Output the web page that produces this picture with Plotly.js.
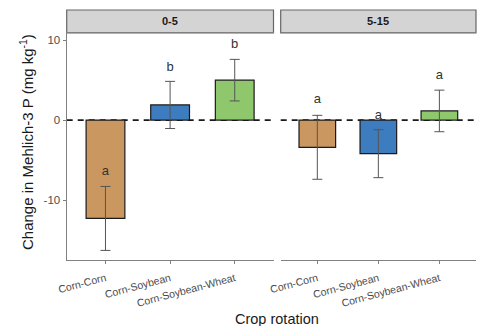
<!DOCTYPE html>
<html><head><meta charset="utf-8">
<script src="https://cdn.plot.ly/plotly-3.0.1.min.js"></script>
<style>html,body{margin:0;padding:0;background:#fff}#chart{width:482px;height:326px}</style>
</head><body><div id="chart"></div>
<script>
const categories = ["Corn-Corn", "Corn-Soybean", "Corn-Soybean-Wheat"];
const depths = ["0-5", "5-15"];
const values0to5 = [-12.3, 1.9, 5.0];
const errors0to5 = [4.0, 2.95, 2.6];
const letters0to5 = ["a", "b", "b"];
const letterY0to5 = [-6.5, 6.6, 9.4];
const values5to15 = [-3.4, -4.2, 1.15];
const errors5to15 = [4.0, 3.0, 2.6];
const letters5to15 = ["a", "a", "a"];
const letterY5to15 = [2.5, 0.6, 5.6];
const barColors = ["#c9975f", "#3d7dbf", "#8fc76c"];

const font = "Liberation Sans, Arial, sans-serif";
function barTrace(vals, errs, xa) {
  return {type: "bar", x: categories, y: vals, xaxis: xa, yaxis: "y",
    marker: {color: barColors, line: {color: "#1a1a1a", width: 1.2}},
    width: 0.6,
    error_y: {type: "data", array: errs, visible: true, color: "#555", thickness: 1, width: 5},
    showlegend: false, hoverinfo: "skip"};
}
function letterTrace(labels, ys, xa) {
  return {type: "scatter", mode: "text", x: categories, y: ys, text: labels, xaxis: xa, yaxis: "y",
    textfont: {family: font, size: 13, color: "#333"}, textposition: "middle center",
    showlegend: false, hoverinfo: "skip"};
}
const data = [
  barTrace(values0to5, errors0to5, "x"),
  barTrace(values5to15, errors5to15, "x2"),
  letterTrace(letters0to5, letterY0to5, "x"),
  letterTrace(letters5to15, letterY5to15, "x2")
];
const W = 482, H = 326;
const xd1 = [66.7 / W, 273.5 / W], xd2 = [280.7 / W, 476 / W];
const yBot = 1 - 260 / H, yTop = 1 - 33 / H, stripTop = 1 - 10 / H;
const xaxisBase = {
  type: "category", categoryarray: categories, range: [-0.6, 2.6],
  showline: true, mirror: true, linecolor: "#808080", linewidth: 1.2,
  ticks: "outside", ticklen: 3, tickcolor: "#808080", tickwidth: 1,
  tickangle: -15, ticklabelstandoff: 4, tickfont: {family: font, size: 10.5, color: "#4d4d4d"},
  showgrid: false, zeroline: false, anchor: "y"
};
const layout = {
  width: W, height: H, margin: {l: 0, r: 0, t: 0, b: 0},
  paper_bgcolor: "#fff", plot_bgcolor: "#fff", bargap: 0.4,
  xaxis: Object.assign({}, xaxisBase, {domain: xd1}),
  xaxis2: Object.assign({}, xaxisBase, {domain: xd2}),
  yaxis: {domain: [yBot, yTop], range: [-17.5, 10.9], tickvals: [-10, 0, 10], ticktext: ["-10", "0", "10"],
    showline: true, linecolor: "#808080", linewidth: 1.2, ticks: "outside", ticklen: 3, tickcolor: "#808080",
    tickfont: {family: font, size: 11.5, color: "#4d4d4d"}, showgrid: false, zeroline: false, anchor: "x"},
  shapes: [
    {type: "rect", xref: "paper", yref: "paper", x0: xd1[0], x1: xd1[1], y0: yTop, y1: stripTop,
      fillcolor: "#d4d4d4", line: {color: "#666", width: 1.2}, layer: "below"},
    {type: "rect", xref: "paper", yref: "paper", x0: xd2[0], x1: xd2[1], y0: yTop, y1: stripTop,
      fillcolor: "#d4d4d4", line: {color: "#666", width: 1.2}, layer: "below"},
    {type: "line", xref: "x domain", yref: "y", x0: 0, x1: 1, y0: 0, y1: 0,
      line: {color: "#1a1a1a", width: 1.8, dash: "6px,5px"}, layer: "below"},
    {type: "line", xref: "x2 domain", yref: "y", x0: 0, x1: 1, y0: 0, y1: 0,
      line: {color: "#1a1a1a", width: 1.8, dash: "6px,5px"}, layer: "below"}
  ],
  annotations: [
    {xref: "paper", yref: "paper", x: (xd1[0] + xd1[1]) / 2, y: (yTop + stripTop) / 2, text: "<b>" + depths[0] + "</b>",
      xanchor: "center", yanchor: "middle", showarrow: false, font: {family: font, size: 11, color: "#1a1a1a"}},
    {xref: "paper", yref: "paper", x: (xd2[0] + xd2[1]) / 2, y: (yTop + stripTop) / 2, text: "<b>" + depths[1] + "</b>",
      xanchor: "center", yanchor: "middle", showarrow: false, font: {family: font, size: 11, color: "#1a1a1a"}},
    {xref: "paper", yref: "paper", x: 277 / W, y: 1 - 319 / H, text: "Crop rotation",
      xanchor: "center", yanchor: "middle", showarrow: false, font: {family: font, size: 14.5, color: "#1a1a1a"}},
    {xref: "paper", yref: "paper", x: 27 / W, y: 1 - 142 / H, text: "Change in Mehlich-3 P (mg kg<sup>-1</sup>)",
      xanchor: "center", yanchor: "middle", textangle: -90, showarrow: false, font: {family: font, size: 15, color: "#1a1a1a"}}
  ]
};
Plotly.newPlot("chart", data, layout, {staticPlot: true, displayModeBar: false});
</script></body></html>
